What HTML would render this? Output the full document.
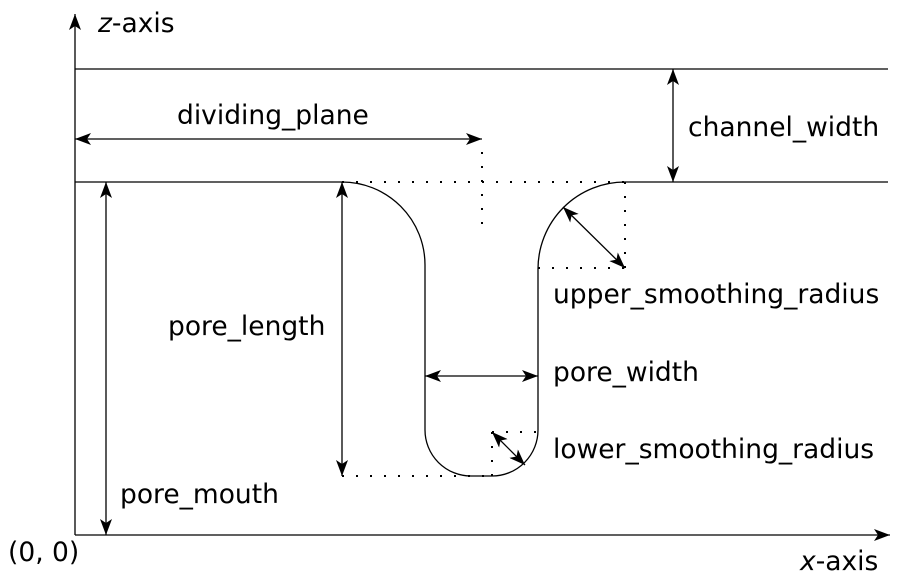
<!DOCTYPE html>
<html><head><meta charset="utf-8"><style>
html,body{margin:0;padding:0;background:#fff;width:900px;height:580px;overflow:hidden}
svg text{font-family:"DejaVu Sans","Liberation Sans",sans-serif;font-size:26.5px;fill:#000}
</style></head><body>
<svg width="900" height="580" viewBox="0 0 900 580" xmlns="http://www.w3.org/2000/svg">
<defs>
<marker id="a" viewBox="0 0 16 12" refX="16" refY="6" markerWidth="16" markerHeight="12" markerUnits="userSpaceOnUse" orient="auto-start-reverse">
<path d="M0,0 L16,6 L0,12 L4,6 Z" fill="#000"/>
</marker>
</defs>
<g stroke="#000" stroke-width="1.3" fill="none">
<line x1="75" y1="535" x2="75" y2="14" marker-end="url(#a)"/>
<line x1="75" y1="535" x2="890" y2="535" marker-end="url(#a)"/>
<line x1="75" y1="69" x2="888" y2="69"/>
<path d="M75,182 H342 A83,83 0 0 1 425,265 V430 A46,46 0 0 0 471,476 H492 A46,46 0 0 0 538,430 V269 A87,87 0 0 1 625,182 H888"/>
<line x1="75" y1="139" x2="482" y2="139" marker-start="url(#a)" marker-end="url(#a)"/>
<line x1="673" y1="69" x2="673" y2="182" marker-start="url(#a)" marker-end="url(#a)"/>
<line x1="106" y1="535" x2="106" y2="182" marker-start="url(#a)" marker-end="url(#a)"/>
<line x1="342" y1="182" x2="342" y2="476" marker-start="url(#a)" marker-end="url(#a)"/>
<line x1="425" y1="376" x2="538" y2="376" marker-start="url(#a)" marker-end="url(#a)"/>
<line x1="563" y1="207" x2="625" y2="268" marker-start="url(#a)" marker-end="url(#a)"/>
<line x1="492" y1="432" x2="525" y2="465" marker-start="url(#a)" marker-end="url(#a)"/>
</g>
<g stroke="#000" stroke-width="2" fill="none" stroke-dasharray="2,12" stroke-linecap="butt">
<line x1="342" y1="182" x2="625" y2="182"/>
<line x1="482" y1="152" x2="482" y2="228"/>
<line x1="625" y1="182" x2="625" y2="268"/>
<line x1="538" y1="268" x2="625" y2="268"/>
<line x1="342" y1="476" x2="492" y2="476"/>
<line x1="492" y1="432" x2="538" y2="432"/>
<line x1="492" y1="432" x2="492" y2="476"/>
</g>
<text x="98" y="32"><tspan font-style="italic">z</tspan>-axis</text>
<text x="177" y="124">dividing_plane</text>
<text x="688" y="136">channel_width</text>
<text x="553" y="303">upper_smoothing_radius</text>
<text x="168" y="335">pore_length</text>
<text x="553" y="381">pore_width</text>
<text x="553" y="458">lower_smoothing_radius</text>
<text x="120" y="503">pore_mouth</text>
<text x="8" y="561">(0, 0)</text>
<text x="800" y="570"><tspan font-style="italic">x</tspan>-axis</text>
</svg>
</body></html>
